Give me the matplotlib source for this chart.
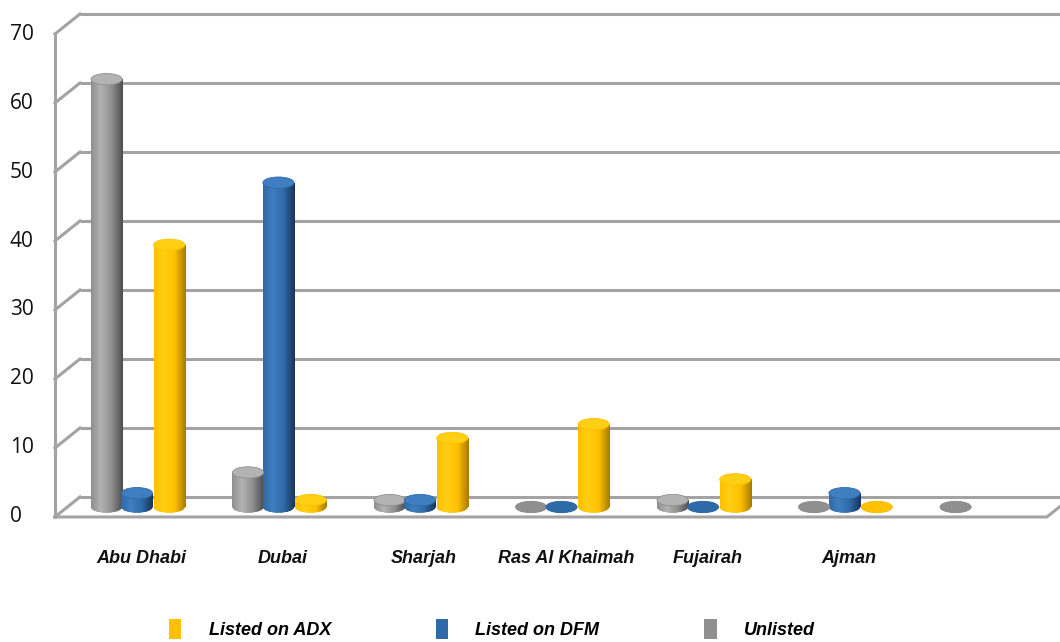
import matplotlib
matplotlib.use('Agg')
import matplotlib.pyplot as plt
import numpy as np
from matplotlib.colors import LinearSegmentedColormap
from matplotlib.patches import Ellipse, Patch

# data
emirates = ['Abu Dhabi', 'Dubai', 'Sharjah', 'Ras Al Khaimah', 'Fujairah', 'Ajman', '']
unlisted = [62, 5, 1, 0, 1, 0, 0]
listed_dfm = [2, 47, 1, 0, 0, 2, None]
listed_adx = [38, 1, 10, 12, 4, 0, None]
yticks = [0, 10, 20, 30, 40, 50, 60, 70]

# (label, values, offset inside group, base, light, dark)
series = [
    ('Unlisted', unlisted, -0.215, '#8f8f8f', '#b3b3b3', '#4d4d4d'),
    ('Listed on DFM', listed_dfm, 0.0, '#2f6aa8', '#3f7ec0', '#18355a'),
    ('Listed on ADX', listed_adx, 0.228, '#ffc000', '#ffcf14', '#a67c00'),
]

W = 0.22      # cylinder width (group units)
EH = 1.65     # ellipse height (value units)
DX = 0.177    # depth offset x
DY = 1.45     # half depth in value units
GRID = '#a3a3a3'

fig = plt.figure(figsize=(10.6, 6.42), dpi=100)
ax = fig.add_axes([0, 0, 1, 1])
ax.axis('off')

x0 = -0.58          # front left edge
xr = 6.43           # front right edge of floor

# walls / gridlines
for v in yticks:
    ax.plot([x0 + DX, 6.7], [v + DY, v + DY], color=GRID, lw=2.2, zorder=1, solid_capstyle='butt')
    ax.plot([x0, x0 + DX], [v - DY, v + DY], color=GRID, lw=2.2, zorder=1)
    ax.text(-0.8975, v - DY, str(v), fontsize=15, family='Open Sans', ha='left', va='center', color='#111111')
ax.plot([x0, x0], [-DY, 70 - DY], color=GRID, lw=2.2, zorder=1)
ax.plot([x0, xr, xr + DX], [-DY, -DY, DY], color=GRID, lw=2.2, zorder=1)

handles = {}
for name, vals, off, base, light, dark in series:
    cmap = LinearSegmentedColormap.from_list(name, [(0, base), (0.3, light), (0.65, base), (1, dark)])
    grad = np.linspace(0, 1, 64).reshape(1, -1)
    xs = [i + off for i, v in enumerate(vals) if v is not None]
    hs = [v for v in vals if v is not None]
    bars = ax.bar(xs, hs, width=W, color=base, zorder=3, linewidth=0)
    for b, h in zip(bars, hs):
        xc = b.get_x() + W / 2
        bot = Ellipse((xc, 0), W, EH, facecolor=base, edgecolor='none', zorder=3)
        ax.add_patch(bot)
        im = ax.imshow(grad, cmap=cmap, extent=[xc - W / 2, xc + W / 2, -EH / 2, max(h, 0.01)],
                       aspect='auto', zorder=3.1, interpolation='bilinear')
        im.set_clip_path(bot)
        im2 = ax.imshow(grad, cmap=cmap, extent=[xc - W / 2, xc + W / 2, 0, max(h, 0.01)],
                        aspect='auto', zorder=3.2, interpolation='bilinear')
        im2.set_clip_path(b)
        ax.add_patch(Ellipse((xc, h), W, EH, facecolor=light if h > 0 else base,
                             edgecolor=base, lw=0.6, zorder=3.3))
    handles[name] = Patch(facecolor=base, edgecolor='none')

for i, lab in enumerate(emirates):
    ax.text(i + 0.03, -7.4, lab, fontsize=13, family='Liberation Sans', fontweight='bold',
            fontstyle='italic', ha='center', va='center', color='#111111')

ax.set_xlim(-0.968, 6.523)
ax.set_ylim(-19.57, 73.48)

order = ['Listed on ADX', 'Listed on DFM', 'Unlisted']
fig.legend([handles[k] for k in order], order, loc='center', bbox_to_anchor=(0.464, 0.02),
           ncol=3, frameon=False, handlelength=0.7, handleheight=1.3, handletextpad=1.5,
           columnspacing=5.8, prop={'family': 'Liberation Sans', 'weight': 'bold',
                                    'style': 'italic', 'size': 13})

fig.savefig('out.png', dpi=100)
